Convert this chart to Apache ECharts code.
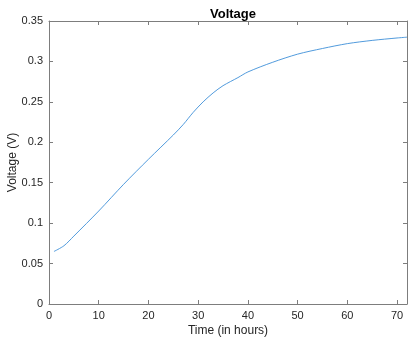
<!DOCTYPE html>
<html>
<head>
	<meta charset="UTF-8">
	<title>Voltage</title>
	<script src="https://cdn.jsdelivr.net/npm/echarts@6/dist/echarts.min.js"></script>
	<style>
		body { margin: 0; background: #fff; }
		#display { width: 416px; height: 343px; }
	</style>
</head>
<body>
	<div id="display"></div>
	<script>
		// hours / volts
		var hours = [1, 3, 5, 10, 15, 20, 25, 27, 29, 31, 33, 35, 38, 40, 45, 50, 55, 60, 65, 70, 72];
		var volts = [0.065, 0.072, 0.084, 0.115, 0.148, 0.179, 0.209, 0.222, 0.237, 0.250, 0.261, 0.270, 0.280, 0.287, 0.299, 0.309, 0.316, 0.322, 0.326, 0.329, 0.330];
		var xTicks = [0, 10, 20, 30, 40, 50, 60, 70];
		var yTicks = [0, 0.05, 0.1, 0.15, 0.2, 0.25, 0.3, 0.35];

		var points = hours.map(function (h, i) { return [h, volts[i]]; });
		var lineColor = '#7d7d7d';
		var textColor = '#262626';
		var font = 'Liberation Sans, Arial, sans-serif';

		function boxAxis(pos, min, max, interval, showLabel, name) {
			return {
				type: 'value',
				position: pos,
				min: min,
				max: max,
				interval: interval,
				name: name || '',
				nameLocation: 'middle',
				nameGap: pos === 'left' ? 30 : 21,
				nameMoveOverlap: false,
				nameTextStyle: { color: textColor, fontSize: 12, fontFamily: font },
				axisLine: { show: true, onZero: false, lineStyle: { color: lineColor, width: 1 } },
				axisTick: { show: true, inside: true, length: 4, lineStyle: { color: lineColor } },
				axisLabel: { show: showLabel, color: textColor, fontSize: 11, fontFamily: font, margin: 6 },
				splitLine: { show: false }
			};
		}

		var option = {
			animation: false,
			title: {
				text: 'Voltage',
				left: 228,
				textAlign: 'center',
				top: 3,
				textStyle: { fontSize: 13, fontWeight: 'bold', color: '#000', fontFamily: font }
			},
			grid: { left: 49, right: 9, top: 21, bottom: 39, containLabel: false, outerBoundsMode: 'none' },
			xAxis: [
				boxAxis('bottom', xTicks[0], 72, 10, true, 'Time (in hours)'),
				boxAxis('top', xTicks[0], 72, 10, false)
			],
			yAxis: [
				boxAxis('left', yTicks[0], yTicks[yTicks.length - 1], 0.05, true, 'Voltage (V)'),
				boxAxis('right', yTicks[0], yTicks[yTicks.length - 1], 0.05, false)
			],
			series: [{
				type: 'line',
				data: points,
				showSymbol: false,
				smooth: 0.3,
				lineStyle: { color: '#3d8fd8', width: 0.9 }
			}]
		};

		var myChart = echarts.init(document.getElementById('display'));
		myChart.setOption(option);
	</script>
</body>
</html>
